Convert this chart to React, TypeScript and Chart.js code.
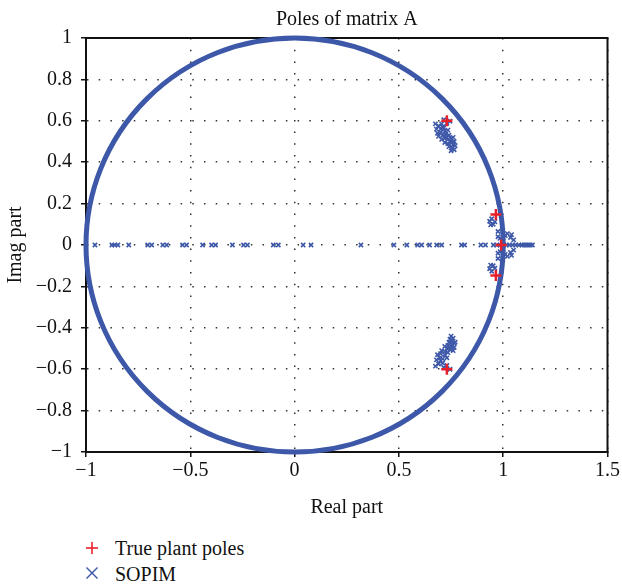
import React, { useEffect, useRef } from "react";
import { Chart, registerables } from "chart.js";

Chart.register(...registerables);

const TITLE = "Poles of matrix A";
const X_LABEL = "Real part";
const Y_LABEL = "Imag part";
const LEGEND_TRUE = "True plant poles";
const LEGEND_SOPIM = "SOPIM";

const X_MIN = -1;
const X_MAX = 1.5;
const X_STEP = 0.5;
const Y_MIN = -1;
const Y_MAX = 1;
const Y_STEP = 0.2;
const UNIT_CIRCLE_RADIUS = 1;

const BLUE = "#3d58a8";
const RED = "#e8202a";
const FONT = "'Liberation Serif', 'DejaVu Serif', serif";

// True plant poles (real, imag)
const truePolesRe = [0.73, 0.73, 0.965, 0.965, 0.99];
const truePolesIm = [0.6, -0.6, 0.147, -0.147, 0];

// SOPIM poles lying on the real axis (imag = 0)
const sopimRealAxisRe = [
  -0.957, -0.876, -0.862, -0.847, -0.795, -0.704, -0.685, -0.632, -0.613,
  -0.537, -0.518, -0.441, -0.398, -0.379, -0.298, -0.245, -0.226, -0.102,
  -0.078, 0.041, 0.079, 0.318, 0.476, 0.538, 0.59, 0.609, 0.647, 0.681, 0.705,
  0.8, 0.815, 0.893, 0.915, 0.953, 0.97, 0.985, 1.0, 1.015, 1.03, 1.045, 1.06,
  1.075, 1.09, 1.1, 1.11, 1.12, 1.13, 1.14,
];

// SOPIM complex poles
const sopimComplexRe = [
  // upper cluster near 0.73 + 0.55j
  0.675, 0.69, 0.705, 0.68, 0.7, 0.715, 0.685, 0.7, 0.72, 0.735, 0.69, 0.71,
  0.725, 0.74, 0.705, 0.72, 0.735, 0.75, 0.72, 0.735, 0.75, 0.765, 0.74, 0.755,
  0.77, 0.75, 0.765, 0.71, 0.73, 0.745, 0.76, 0.76, 0.715, 0.745, 0.73,
  // lower cluster near 0.73 - 0.55j
  0.675, 0.69, 0.7, 0.68, 0.695, 0.71, 0.685, 0.7, 0.72, 0.705, 0.72, 0.735,
  0.73, 0.745, 0.72, 0.735, 0.75, 0.765, 0.74, 0.755, 0.77, 0.745, 0.76, 0.75,
  0.765, 0.71, 0.73, 0.755, 0.76, 0.715, 0.745, 0.73,
  // near 1 upper
  0.935, 0.945, 0.952, 0.96, 0.94, 0.975, 0.998, 1.02, 1.035, 1.05, 0.985, 1.0,
  0.975, 1.01, 1.04,
  // near 1 lower
  0.935, 0.945, 0.952, 0.96, 0.94, 0.975, 0.998, 1.02, 1.035, 1.05, 0.985, 1.0,
  0.975, 1.01, 1.04,
];
const sopimComplexIm = [
  0.585, 0.575, 0.585, 0.56, 0.56, 0.565, 0.54, 0.545, 0.55, 0.555, 0.525, 0.53,
  0.535, 0.53, 0.51, 0.515, 0.51, 0.515, 0.495, 0.49, 0.495, 0.5, 0.475, 0.47,
  0.48, 0.455, 0.46, 0.57, 0.52, 0.5, 0.485, 0.52, 0.605, 0.598, 0.588,
  -0.585, -0.575, -0.56, -0.555, -0.545, -0.55, -0.53, -0.525, -0.53, -0.51,
  -0.515, -0.52, -0.5, -0.505, -0.49, -0.485, -0.49, -0.495, -0.47, -0.465,
  -0.47, -0.455, -0.45, -0.44, -0.475, -0.57, -0.545, -0.48, -0.51, -0.592,
  -0.6, -0.582,
  0.115, 0.127, 0.1, 0.112, 0.097, 0.065, 0.07, 0.055, 0.036, 0.025, 0.032,
  0.02, 0.04, 0.045, 0.05,
  -0.115, -0.127, -0.1, -0.112, -0.097, -0.065, -0.07, -0.055, -0.036, -0.025,
  -0.032, -0.02, -0.04, -0.045, -0.05,
];

function fmt(v: number): string {
  const n = Math.round(Number(v) * 10) / 10;
  return n < 0 ? "\u2212" + Math.abs(n) : String(n);
}

export default function App() {
  const ref = useRef<HTMLCanvasElement>(null);

  useEffect(() => {
    document.body.style.margin = "0";
    const canvas = ref.current;
    if (!canvas) return;

    const truePts = truePolesRe.map((x, i) => ({ x, y: truePolesIm[i] }));
    const sopimPts = [
      ...sopimRealAxisRe.map((x) => ({ x, y: 0 })),
      ...sopimComplexRe.map((x, i) => ({ x, y: sopimComplexIm[i] })),
    ];

    const decor = {
      id: "decor",
      beforeDatasetsDraw(chart: any) {
        const { ctx, chartArea: a, scales } = chart;
        const xs = scales.x;
        const ys = scales.y;
        ctx.save();
        ctx.strokeStyle = "#111";
        ctx.lineWidth = 2;
        ctx.strokeRect(a.left, a.top, a.right - a.left, a.bottom - a.top);
        const cx = xs.getPixelForValue(0);
        const cy = ys.getPixelForValue(0);
        const rx = xs.getPixelForValue(UNIT_CIRCLE_RADIUS) - cx;
        const ry = cy - ys.getPixelForValue(UNIT_CIRCLE_RADIUS);
        ctx.beginPath();
        ctx.ellipse(cx, cy, rx, ry, 0, 0, Math.PI * 2);
        ctx.strokeStyle = BLUE;
        ctx.lineWidth = 5;
        ctx.stroke();
        ctx.restore();
      },
      afterDraw(chart: any) {
        const { ctx, chartArea: a } = chart;
        ctx.save();
        ctx.font = `20px ${FONT}`;
        ctx.fillStyle = "#111";
        ctx.textAlign = "center";
        ctx.textBaseline = "alphabetic";
        ctx.fillText(TITLE, (a.left + a.right) / 2, 25);
        ctx.restore();
      },
    };

    const chart = new Chart(canvas, {
      type: "scatter",
      data: {
        datasets: [
          {
            label: LEGEND_TRUE,
            data: truePts,
            pointStyle: "cross",
            pointRadius: 5.5,
            pointBorderWidth: 2.5,
            borderColor: RED,
            backgroundColor: RED,
            order: 1,
          },
          {
            label: LEGEND_SOPIM,
            data: sopimPts,
            pointStyle: "crossRot",
            pointRadius: 3,
            pointBorderWidth: 1.6,
            borderColor: BLUE,
            backgroundColor: BLUE,
            order: 2,
          },
        ],
      },
      options: {
        responsive: false,
        animation: false,
        layout: { padding: { top: 38, right: 13, left: 0, bottom: 0 } },
        plugins: {
          legend: { display: false },
          tooltip: { enabled: false },
          title: { display: false },
        },
        scales: {
          x: {
            type: "linear",
            min: X_MIN,
            max: X_MAX,
            afterFit: (s: any) => {
              s.height = 73;
            },
            ticks: {
              stepSize: X_STEP,
              color: "#111",
              font: { family: FONT, size: 20 },
              padding: 2,
              callback: (v: any) => fmt(v),
              maxRotation: 0,
            },
            grid: {
              color: "#333",
              lineWidth: 1.5,
              tickLength: 5,
              tickColor: "#111",
              tickWidth: 1.5,
              tickBorderDash: [],
            },
            border: { color: "#111", width: 2, dash: [1.5, 10.2] },
            title: {
              display: true,
              text: X_LABEL,
              color: "#111",
              font: { family: FONT, size: 20 },
              padding: { top: 0, bottom: 5 },
            },
          },
          y: {
            type: "linear",
            min: Y_MIN,
            max: Y_MAX,
            afterFit: (s: any) => {
              s.width = 86;
            },
            ticks: {
              stepSize: Y_STEP,
              color: "#111",
              font: { family: FONT, size: 20 },
              padding: 9,
              callback: (v: any) => fmt(v),
            },
            grid: {
              color: "#333",
              lineWidth: 1.5,
              tickLength: 5,
              tickColor: "#111",
              tickWidth: 1.5,
              tickBorderDash: [],
            },
            border: { color: "#111", width: 2, dash: [1.5, 10.2] },
            title: {
              display: true,
              text: Y_LABEL,
              color: "#111",
              font: { family: FONT, size: 20 },
              padding: { top: 4, bottom: 0 },
            },
          },
        },
      },
      plugins: [decor],
    } as any);

    return () => chart.destroy();
  }, []);

  const legendText: React.CSSProperties = {
    position: "absolute",
    left: 115,
    fontFamily: FONT,
    fontSize: 20,
    lineHeight: "24px",
    color: "#111",
    whiteSpace: "nowrap",
  };

  return (
    <div style={{ position: "relative", width: 622, height: 587, background: "#fff" }}>
      <canvas ref={ref} width={622} height={525} style={{ display: "block" }} />
      <svg
        style={{ position: "absolute", left: 85, top: 541 }}
        width={14}
        height={14}
      >
        <line x1={7} y1={1} x2={7} y2={13} stroke={RED} strokeWidth={1.6} />
        <line x1={1} y1={7} x2={13} y2={7} stroke={RED} strokeWidth={1.6} />
      </svg>
      <div style={{ ...legendText, top: 536 }}>{LEGEND_TRUE}</div>
      <svg
        style={{ position: "absolute", left: 85, top: 566 }}
        width={14}
        height={14}
      >
        <line x1={1.5} y1={1.5} x2={12.5} y2={12.5} stroke={BLUE} strokeWidth={1.4} />
        <line x1={12.5} y1={1.5} x2={1.5} y2={12.5} stroke={BLUE} strokeWidth={1.4} />
      </svg>
      <div style={{ ...legendText, top: 562 }}>{LEGEND_SOPIM}</div>
    </div>
  );
}
